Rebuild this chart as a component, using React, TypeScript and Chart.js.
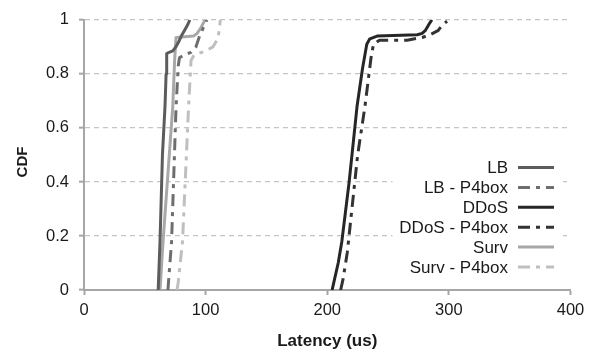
import React, { useEffect, useRef } from "react";
import { Chart, registerables } from "chart.js";

Chart.register(...registerables);

// ---- Data ----
const seriesNames = ["LB", "LB - P4box", "DDoS", "DDoS - P4box", "Surv", "Surv - P4box"];

const lbLatency = [61, 62.5, 64.5, 66.6, 67.5, 68, 70, 73, 75.5, 78, 80, 82.5, 85, 87];
const lbCdf = [0, 0.18, 0.5, 0.68, 0.8, 0.875, 0.88, 0.885, 0.9, 0.92, 0.94, 0.96, 0.98, 1.0];

const lbP4Latency = [69, 72, 75.7, 77.5, 78.5, 82, 88, 92, 95, 98, 101];
const lbP4Cdf = [0, 0.18, 0.68, 0.83, 0.86, 0.87, 0.88, 0.9, 0.94, 0.97, 1.0];

const ddosLatency = [204, 205, 209, 212, 218, 224.5, 229, 232.5, 235, 241, 274, 278, 280.5, 284.5, 286];
const ddosCdf = [0, 0.02, 0.1, 0.18, 0.4, 0.68, 0.82, 0.91, 0.93, 0.94, 0.945, 0.95, 0.96, 0.99, 1.0];

const ddosP4Latency = [211, 213, 216.5, 225, 231, 236, 238, 243, 265.6, 278, 284.5, 291, 294.5, 298.5];
const ddosP4Cdf = [0, 0.04, 0.14, 0.5, 0.68, 0.86, 0.91, 0.925, 0.925, 0.935, 0.945, 0.96, 0.98, 0.995];

const survLatency = [62.5, 65, 73, 74.5, 75.7, 90, 93, 96, 99.5];
const survCdf = [0, 0.18, 0.68, 0.85, 0.935, 0.94, 0.95, 0.97, 1.0];

const survP4Latency = [76.5, 77.5, 81, 86, 88, 90.5, 100, 106, 110, 111.5, 112];
const survP4Cdf = [0, 0.03, 0.18, 0.68, 0.85, 0.87, 0.885, 0.9, 0.93, 0.97, 1.0];

const xTickValues = [0, 100, 200, 300, 400];
const yTickValues = [0, 0.2, 0.4, 0.6, 0.8, 1];

const xTitle = "Latency (us)";
const yTitle = "CDF";

// ---- Styles ----
const seriesColors = ["#5c5c5c", "#6e6e6e", "#262626", "#333333", "#a8a8a8", "#bfbfbf"];
const DASH_DOT = [12, 6, 4, 6];
const seriesDash: number[][] = [[], DASH_DOT, [], DASH_DOT, [], DASH_DOT];
const FONT = "'Liberation Sans', Arial, sans-serif";

const seriesX = [lbLatency, lbP4Latency, ddosLatency, ddosP4Latency, survLatency, survP4Latency];
const seriesY = [lbCdf, lbP4Cdf, ddosCdf, ddosP4Cdf, survCdf, survP4Cdf];

const overlayPlugin = {
  id: "overlay",
  afterDatasetsDraw(chart: any) {
    const ctx = chart.ctx as CanvasRenderingContext2D;
    const area = chart.chartArea;
    ctx.save();
    // legend background
    const boxLeft = area.right - 178;
    const boxRight = area.right - 7.5;
    ctx.fillStyle = "#ffffff";
    ctx.fillRect(boxLeft, 150, boxRight - boxLeft, 133);

    ctx.font = `17px ${FONT}`;
    ctx.textAlign = "right";
    ctx.textBaseline = "middle";
    const textRight = area.right - 62.5;
    const lineStart = area.right - 52.5;
    const lineEnd = area.right - 16.5;
    for (let i = 0; i < seriesNames.length; i++) {
      const y = 167.5 + i * 19.9;
      ctx.fillStyle = "#1a1a1a";
      ctx.fillText(seriesNames[i], textRight, y + 1);
      ctx.beginPath();
      ctx.strokeStyle = seriesColors[i];
      ctx.lineWidth = 3;
      ctx.lineCap = "butt";
      ctx.setLineDash(seriesDash[i]);
      ctx.moveTo(lineStart, y);
      ctx.lineTo(lineEnd, y);
      ctx.stroke();
    }
    ctx.setLineDash([]);

    // y title
    ctx.translate(22.5, 162);
    ctx.rotate(-Math.PI / 2);
    ctx.font = `bold 15px ${FONT}`;
    ctx.textAlign = "center";
    ctx.textBaseline = "middle";
    ctx.fillStyle = "#1a1a1a";
    ctx.fillText(yTitle, 0, 0);
    ctx.restore();
  },
};

export default function App() {
  const canvasRef = useRef<HTMLCanvasElement | null>(null);

  useEffect(() => {
    const canvas = canvasRef.current;
    if (!canvas) return;
    const datasets = seriesNames.map((name, i) => ({
      label: name,
      data: seriesX[i].map((x, j) => ({ x, y: seriesY[i][j] })),
      borderColor: seriesColors[i],
      backgroundColor: seriesColors[i],
      borderWidth: 3,
      borderDash: seriesDash[i],
      borderCapStyle: "butt" as const,
      borderJoinStyle: "round" as const,
      pointRadius: 0,
      showLine: true,
      tension: 0,
      fill: false,
    }));

    const chart = new Chart(canvas, {
      type: "scatter",
      data: { datasets },
      options: {
        animation: false,
        responsive: false,
        maintainAspectRatio: false,
        layout: { padding: { top: 12, right: 29.5, left: 0, bottom: 0 } },
        plugins: {
          legend: { display: false },
          tooltip: { enabled: false },
        },
        scales: {
          x: {
            type: "linear",
            min: 0,
            max: 400,
            afterBuildTicks: (scale: any) => {
              scale.ticks = xTickValues.map((v) => ({ value: v }));
            },
            afterFit: (scale: any) => {
              scale.height = 59;
            },
            ticks: {
              color: "#1a1a1a",
              font: { family: FONT, size: 16.5 },
              padding: 6,
              maxRotation: 0,
              autoSkip: false,
              callback: (v: any) => String(v),
            },
            grid: {
              display: true,
              drawOnChartArea: false,
              drawTicks: true,
              tickLength: 5,
              tickColor: "#a6a6a6",
              tickWidth: 2,
            },
            border: { display: true, color: "#a6a6a6", width: 2 },
            title: {
              display: true,
              text: xTitle,
              color: "#1a1a1a",
              font: { family: FONT, size: 17, weight: "bold", lineHeight: 1 },
              padding: { top: 0, bottom: -1 },
            },
          },
          y: {
            type: "linear",
            min: 0,
            max: 1,
            afterBuildTicks: (scale: any) => {
              scale.ticks = yTickValues.map((v) => ({ value: v }));
            },
            afterFit: (scale: any) => {
              scale.width = 84;
            },
            ticks: {
              color: "#1a1a1a",
              font: { family: FONT, size: 16.5 },
              padding: 10,
              autoSkip: false,
              callback: (v: any) => String(Math.round(v * 10) / 10),
            },
            grid: {
              display: true,
              drawOnChartArea: true,
              drawTicks: true,
              tickLength: 5,
              color: "#c4c4c4",
              lineWidth: 1.3,
              tickColor: "#a6a6a6",
              tickWidth: 2,
            },
            border: { display: true, color: "#a6a6a6", width: 2, dash: [5, 4] },
          },
        },
      },
      plugins: [overlayPlugin],
    });
    return () => chart.destroy();
  }, []);

  return (
    <div style={{ position: "fixed", left: 0, top: 0, width: 600, height: 349, background: "#fff" }}>
      <canvas ref={canvasRef} width={600} height={349} style={{ display: "block" }} />
    </div>
  );
}
